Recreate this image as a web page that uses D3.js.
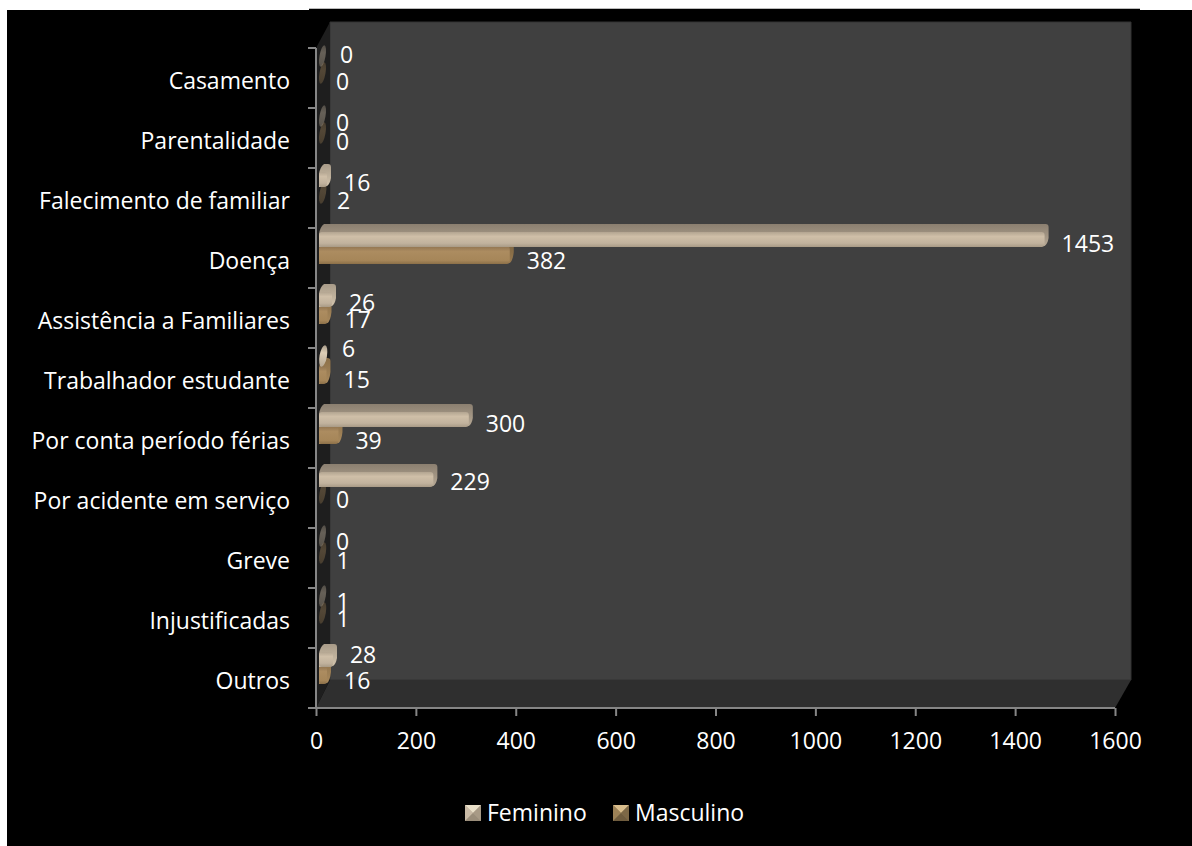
<!DOCTYPE html>
<html><head><meta charset="utf-8">
<script src="https://cdn.jsdelivr.net/npm/d3@7"></script>
<style>html,body{margin:0;padding:0;background:#fff}svg{display:block}text{font-family:"Open Sans",sans-serif;font-size:23px;fill:#fff}</style>
</head><body><div id="c"></div>
<script>
const categories = ["Casamento","Parentalidade","Falecimento de familiar","Doença","Assistência a Familiares","Trabalhador estudante","Por conta período férias","Por acidente em serviço","Greve","Injustificadas","Outros"];
const feminino = [0,0,16,1453,26,6,300,229,0,1,28];
const masculino = [0,0,2,382,17,15,39,0,1,1,16];
const xTicks = [0,200,400,600,800,1000,1200,1400,1600];
const seriesNames = ["Feminino","Masculino"];

// Hand-placed label nudges, as in the source chart (layout only)
const femLabelDy = [7,15,15,16,15,1,16,14,14,14,7];
const mascLabelDy = [34,34,33,33,32,32,33,32,33,31,33];
const femLabelDx = [4,0,0,0,0,3,0,0,0,0,0];

const W=1192,H=846;
const svg=d3.select("#c").append("svg").attr("width",W).attr("height",H);
const defs=svg.append("defs");
function grad(id,stops){
  const g=defs.append("linearGradient").attr("id",id).attr("x1",0).attr("y1",0).attr("x2",0).attr("y2",1);
  stops.forEach(s=>g.append("stop").attr("offset",s[0]).attr("stop-color",s[1]));
}
grad("fFront",[[0,"#b3a591"],[.3,"#cfbfa8"],[.75,"#c1b29d"],[1,"#a89a86"]]);
grad("mFront",[[0,"#8f7350"],[.3,"#ac8c60"],[.8,"#a68659"],[1,"#8c7049"]]);
grad("fTop",[[0,"#8b7f70"],[1,"#b8aa96"]]);
grad("mTop",[[0,"#76603e"],[1,"#98794f"]]);
grad("fTopShort",[[0,"#a89b88"],[1,"#d4c5ae"]]);
grad("mTopShort",[[0,"#8c7049"],[1,"#a98a5e"]]);
grad("fBlob",[[0,"#a89b88"],[.35,"#dccdb6"],[1,"#b5a792"]]);
grad("mBlob",[[0,"#8c7049"],[.4,"#a98a5e"],[1,"#8c7049"]]);

// page
svg.append("rect").attr("width",W).attr("height",H).attr("fill","#fff");
svg.append("rect").attr("x",7).attr("y",10).attr("width",W-7).attr("height",H-10).attr("fill","#000");
svg.append("rect").attr("x",309).attr("y",8).attr("width",831).attr("height",2).attr("fill","#000");
svg.append("rect").attr("x",309).attr("y",8).attr("width",831).attr("height",1).attr("fill","#bbb");

const x=d3.scaleLinear().domain([0,1600]).range([316,1115]);
const y=d3.scaleBand().domain(categories).range([48,708]).padding(0);
const depthX=14, depthY=26;
const xL=x.range()[0], xR=x.range()[1], yT=y.range()[0], yB=y.range()[1];

// walls
const poly=(pts,fill,stroke)=>svg.append("polygon").attr("points",pts.map(p=>p.join(",")).join(" ")).attr("fill",fill).attr("stroke",stroke||"none");
poly([[xL+depthX,yT-depthY],[xR+16,yT-depthY],[xR+16,yB-depthY-2],[xL+depthX,yB-depthY-2]],"#404040","#333");
poly([[xL,yT],[xL+depthX,yT-depthY],[xL+depthX,yB-depthY-2],[xL,yB]],"#1e1e1e");
poly([[xL,yB],[xL+depthX,yB-depthY-2],[xR+16,yB-depthY-2],[xR,yB]],"#2f2f2f");

// bars
function bar(g,v,top,h,front,topFill,shortFill,blobFill,blobLift,dim){
  const x0=xL+3, x1=x(v)+3, tY=top-8;
  if(v<10){
    const rx=3+v*0.12, yA=top-blobLift, yZ=top+h;
    g.append("ellipse").attr("cx",0).attr("cy",0).attr("rx",rx).attr("ry",(yZ-yA)/2)
      .attr("transform",`translate(${x0+rx+0.5},${(yA+yZ)/2}) rotate(10)`)
      .attr("fill",blobFill).attr("opacity",dim?0.38:1);
    return;
  }
  g.append("path").attr("d",`M${x0},${top+2} Q${x0+1},${tY+3} ${x0+5},${tY} L${x1+1},${tY} Q${x1+4},${tY} ${x1+4},${tY+3} L${x1+4},${top+6} Q${x1+3},${top+h-3} ${x1},${top+h-1} L${x0},${top+h} Z`).attr("fill",v<50?shortFill:topFill);
  g.append("rect").attr("x",x0).attr("y",top).attr("width",x1-x0).attr("height",h).attr("rx",3).attr("fill",front);
}
const barsG=svg.append("g");
categories.forEach((c,i)=>{
  const t=y(c);
  const g=barsG.append("g");
  bar(g,masculino[i],t+18,18,"url(#mFront)","url(#mTop)","url(#mTopShort)","url(#mBlob)",4,masculino[i]<=2);
  bar(g,feminino[i],t+4,15,"url(#fFront)","url(#fTop)","url(#fTopShort)","url(#fBlob)",7,feminino[i]<=1);
});

// axes
const axisColor="#868686";
const xAxis=d3.axisBottom(x).tickValues(xTicks).tickSize(8).tickPadding(17).tickFormat(d3.format("d"));
const gx=svg.append("g").attr("transform",`translate(0,${yB})`).call(xAxis);
gx.select(".domain").attr("stroke",axisColor).attr("stroke-width",2).attr("d",`M${xL-8},0H${xR}`);
gx.selectAll(".tick line").attr("stroke",axisColor).attr("stroke-width",2);
gx.selectAll("text").attr("fill","#fff").style("font-size","23px").style("font-family","'Open Sans'");
svg.append("line").attr("x1",xL).attr("x2",xL).attr("y1",yT).attr("y2",yB).attr("stroke",axisColor).attr("stroke-width",2);
svg.selectAll(".ytick").data(categories.concat(["__end"])).enter().append("line")
  .attr("x1",xL-8).attr("x2",xL)
  .attr("y1",d=>d==="__end"?yB:y(d)).attr("y2",d=>d==="__end"?yB:y(d))
  .attr("stroke",axisColor).attr("stroke-width",2);
svg.selectAll(".ylab").data(categories).enter().append("text")
  .attr("x",290).attr("y",d=>y(d)+33).attr("dy","0.36em").attr("text-anchor","end").text(d=>d);

// value labels
const labelGap=20;
categories.forEach((c,i)=>{
  svg.append("text").attr("x",x(feminino[i])+labelGap+femLabelDx[i]).attr("y",y(c)+femLabelDy[i]).attr("dy","0.36em").text(feminino[i]);
  svg.append("text").attr("x",x(masculino[i])+labelGap).attr("y",y(c)+mascLabelDy[i]).attr("dy","0.36em").text(masculino[i]);
});

// legend
const legendX=[465,613];
const legendFill=[["#e9dfc8","#b7a995","#c8b9a5","#a89a86","#9a8d7a"],["#d9bd8c","#8f7a58","#9c8156","#7d6846","#6f5c3e"]];
seriesNames.forEach((n,i)=>{
  const lx=legendX[i], ly=805, s=16, c=legendFill[i];
  const tri=(pts,f)=>svg.append("polygon").attr("points",pts.map(p=>p.join(",")).join(" ")).attr("fill",f);
  svg.append("rect").attr("x",lx).attr("y",ly).attr("width",s).attr("height",s).attr("fill",c[1]);
  tri([[lx,ly],[lx+s,ly],[lx+s/2,ly+s/2]],c[0]);
  tri([[lx,ly],[lx,ly+s],[lx+s/2,ly+s/2]],c[2]);
  tri([[lx+s,ly],[lx+s,ly+s],[lx+s/2,ly+s/2]],c[3]);
  tri([[lx,ly+s],[lx+s,ly+s],[lx+s/2,ly+s/2]],c[4]);
  svg.append("text").attr("x",lx+22).attr("y",813).attr("dy","0.36em").text(n);
});
</script></body></html>
